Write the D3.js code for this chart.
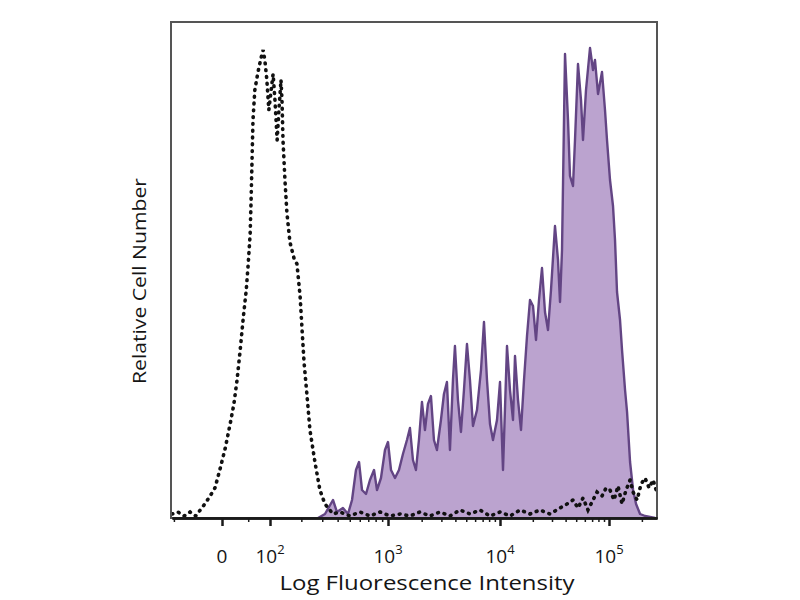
<!DOCTYPE html>
<meta charset="utf-8">
<style>
    body { margin: 0; background: #fff; }
    text { font-family: "Open Sans", sans-serif; fill: #151515; }
    .stained-area { fill: #bba3cf; }
    .stained-line { fill: none; stroke: #634584; stroke-width: 2.4; stroke-linejoin: round; }
    .control-line { fill: none; stroke: #111; stroke-width: 3.6; stroke-linecap: round; stroke-dasharray: 0.8, 6; }
    .frame { fill: none; stroke: #555; stroke-width: 2; }
    .axis path, .axis line { stroke: #1a1a1a; stroke-width: 2.5; }
</style>

<svg width="800" height="600"></svg>

<script src="https://cdn.jsdelivr.net/npm/d3@7"></script>
<script>

    // DATA (fluorescence intensity of each histogram vertex, and its relative count)

    var stainedX = [277, 316, 367, 395, 441, 484, 521, 560, 592, 625, 672, 722, 777, 820, 881, 947,
        1000, 1064, 1155, 1254, 1361, 1478, 1572, 1672, 1778, 1891, 2012, 2140, 2276, 2421, 2575, 2738,
        2973, 3162, 3363, 3577, 3805, 3964, 4217, 4485, 4771, 5075, 5397, 5741, 6233, 6768, 7196, 7655,
        8143, 8660, 9402, 10000, 10655, 11595, 12350, 13160, 13730, 14630, 15585, 16605, 17690, 18845,
        20080, 21395, 22790, 24280, 25870, 27565, 29370, 31955, 34050, 35530, 37060, 39490, 42070, 43870,
        46740, 48770, 51950, 55360, 57740, 61520, 66940, 71320, 74390, 79280, 86260, 91900, 95870,
        102140, 108820, 113510, 118420, 126170, 131610, 140260, 146300, 155850, 166100, 176900, 192500,
        213900, 264200];
    var stainedCount = [0, 2, 9, 3, 5, 2, 9, 24, 28, 14, 12, 19, 24, 14, 20, 34,
        38, 24, 20, 24, 32, 39, 45, 29, 24, 39, 58, 44, 57, 61, 39, 34,
        49, 62, 68, 34, 69, 86, 59, 43, 64, 87, 69, 46, 54, 74, 98, 69,
        47, 39, 49, 68, 24, 86, 64, 49, 81, 59, 44, 69, 91, 109,
        106, 89, 109, 125, 103, 94, 114, 146, 129, 108, 134, 232, 199, 171,
        166, 189, 227, 209, 189, 214, 235, 224, 229, 212, 223, 204, 189,
        169, 156, 139, 113, 99, 84, 64, 53, 28, 14, 7, 2,
        1, 0];

    var controlX = [-105, -90, -75, -62, -50, -41, -32, -22, -13, -4, 6, 15, 22, 28, 34, 40, 46, 50, 54, 56,
        58, 60, 64, 71, 78, 83, 87, 92, 97, 103, 108, 113, 119, 124, 130, 133, 136, 142, 148, 158,
        172, 183, 195, 203, 211, 224, 237, 261, 287, 316, 367, 418, 502, 602, 722, 865, 1042, 1280, 1572, 1931,
        2371, 2912, 3577, 4394, 5397, 6629, 8143, 10000, 12350, 15260, 18845, 23280, 28750, 35530, 41190,
        46740, 51950, 57740, 64170, 69820, 77620, 86260, 93870, 102140, 111160, 120900, 131610, 143220,
        155850, 166100, 180650, 196600, 213900, 232800, 253400, 269900];
    var controlCount = [2, 3, 1, 3, 1, 4, 7, 11, 15, 24, 35, 47, 57, 69, 84, 100, 114, 127, 142, 159,
        179, 199, 214, 223, 230, 234, 229, 219, 204, 214, 222, 209, 189, 204, 219, 209, 189, 169, 153, 138,
        130, 127, 111, 94, 78, 61, 44, 28, 14, 7, 2, 3, 1, 3, 1, 3, 1, 2, 1, 3,
        1, 3, 1, 4, 2, 4, 1, 3, 1, 4, 2, 4, 2, 5, 7,
        9, 5, 10, 4, 8, 13, 11, 15, 14, 9, 16, 7, 14,
        19, 13, 9, 17, 20, 15, 19, 14];

    var majorTicks = [0, 100, 1000, 10000, 100000];
    var tickBase = ["0", "10", "10", "10", "10"];
    var tickExp = ["", "2", "3", "4", "5"];
    var minorTicks = [-100, 50, 200, 300, 400, 500, 600, 700, 800, 900,
        2000, 3000, 4000, 5000, 6000, 7000, 8000, 9000,
        20000, 30000, 40000, 50000, 60000, 70000, 80000, 90000, 200000];

    // SETUP

    var svg = d3.select("svg");

    // arcsinh display transform, split in pieces so each decade gets its own width
    var T = function (v) { return Math.asinh(v / 100); };
    var xEdges = [-105, 0, 100, 1000, 10000, 100000, 275000];
    var xs = d3.scaleLinear()
        .domain(xEdges.map(T))
        .range([172, 222, 270, 388, 500, 609, 657]);
    var x = function (v) { return xs(T(v)); };

    var y = d3.scaleLinear().domain([0, 248]).range([518, 22]);

    var stained = stainedX.map(function (v, i) { return [v, stainedCount[i]]; });
    var control = controlX.map(function (v, i) { return [v, controlCount[i]]; });

    // DRAWING

    svg.append("path")
        .datum(stained)
        .attr("class", "stained-area")
        .attr("d", d3.area()
            .x(function (d) { return x(d[0]); })
            .y0(y(0))
            .y1(function (d) { return y(d[1]); }));

    svg.append("path")
        .datum(stained)
        .attr("class", "stained-line")
        .attr("d", d3.line()
            .x(function (d) { return x(d[0]); })
            .y(function (d) { return y(d[1]); }));

    svg.append("path")
        .datum(control)
        .attr("class", "control-line")
        .attr("d", d3.line()
            .x(function (d) { return x(d[0]); })
            .y(function (d) { return y(d[1]); }));

    svg.append("rect")
        .attr("class", "frame")
        .attr("x", 171)
        .attr("y", 22)
        .attr("width", 486)
        .attr("height", 496);

    svg.append("g")
        .attr("class", "axis")
        .attr("transform", "translate(0," + y(0) + ")")
        .call(d3.axisBottom(xs)
            .tickValues(majorTicks.map(T))
            .tickSize(8)
            .tickSizeOuter(0)
            .tickFormat(""));

    svg.append("g")
        .attr("class", "axis minor")
        .attr("transform", "translate(0," + y(0) + ")")
        .call(d3.axisBottom(xs)
            .tickValues(minorTicks.map(T))
            .tickSize(4)
            .tickSizeOuter(0)
            .tickFormat(""))
        .selectAll("line").style("stroke-width", 1.5);

    var labels = svg.append("g").selectAll("text")
        .data(majorTicks)
        .enter().append("text")
        .attr("x", function (d) { return x(d); })
        .attr("y", 563)
        .attr("text-anchor", "middle")
        .style("font-size", "19px");

    labels.append("tspan").text(function (d, i) { return tickBase[i]; });
    labels.append("tspan")
        .attr("dy", -9)
        .style("font-size", "13px")
        .text(function (d, i) { return tickExp[i]; });

    svg.append("text")
        .attr("x", 427)
        .attr("y", 590)
        .attr("text-anchor", "middle")
        .attr("textLength", 295)
        .attr("lengthAdjust", "spacingAndGlyphs")
        .style("font-size", "20px")
        .text("Log Fluorescence Intensity");

    svg.append("text")
        .attr("transform", "translate(146,281) rotate(-90)")
        .attr("text-anchor", "middle")
        .attr("textLength", 206)
        .attr("lengthAdjust", "spacingAndGlyphs")
        .style("font-size", "19px")
        .text("Relative Cell Number");

</script>
